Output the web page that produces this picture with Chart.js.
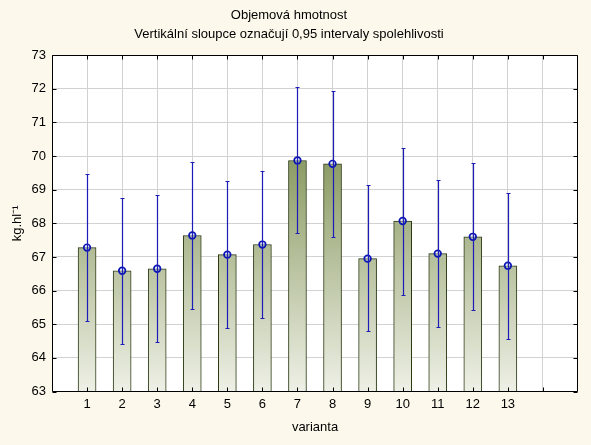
<!DOCTYPE html>
<html>
<head>
<meta charset="utf-8">
<script src="https://cdn.jsdelivr.net/npm/chart.js@4.4.1/dist/chart.umd.min.js"></script>
<style>
  html, body { margin: 0; padding: 0; background: #fdf8ec; }
  #wrap { width: 591px; height: 445px; }
</style>
</head>
<body>
<div id="wrap"><canvas id="c" width="591" height="445"></canvas></div>
<script>
// ---- data ----
const categories = [1, 2, 3, 4, 5, 6, 7, 8, 9, 10, 11, 12, 13];
const means = [67.28, 66.59, 66.65, 67.64, 67.07, 67.37, 69.87, 69.77, 66.95, 68.07, 67.10, 67.60, 66.74];
const upper = [69.46, 68.76, 68.83, 69.82, 69.25, 69.55, 72.06, 71.93, 69.14, 70.24, 69.29, 69.80, 68.91];
const lower = [65.09, 64.42, 64.47, 65.46, 64.89, 65.20, 67.70, 67.58, 64.79, 65.88, 64.93, 65.42, 64.57];
const yTicks = [63, 64, 65, 66, 67, 68, 69, 70, 71, 72, 73];
const titleText = 'Objemová hmotnost';
const subtitleText = 'Vertikální sloupce označují 0,95 intervaly spolehlivosti';
const xTitle = 'varianta';
const yTitle = 'kg.hl⁻¹';

const FONT = 'Arial, "Liberation Sans", sans-serif';

const framePlugin = {
  id: 'frame',
  beforeDraw(chart) {
    const {ctx, chartArea: a} = chart;
    ctx.save();
    ctx.fillStyle = '#fdf8ec';
    ctx.fillRect(0, 0, chart.width, chart.height);
    ctx.fillStyle = '#ffffff';
    ctx.fillRect(a.left, a.top, a.right - a.left, a.bottom - a.top);
    ctx.restore();
  },
  afterDatasetsDraw(chart) {
    const {ctx, scales} = chart;
    ctx.save();
    ctx.strokeStyle = '#1c1cb8';
    ctx.lineWidth = 1.2;
    categories.forEach((c, i) => {
      const x = Math.round(scales.x.getPixelForValue(c)) + 0.5;
      const yu = Math.round(scales.y.getPixelForValue(upper[i])) + 0.5;
      const yl = Math.round(scales.y.getPixelForValue(lower[i])) + 0.5;
      ctx.beginPath();
      ctx.moveTo(x, yu); ctx.lineTo(x, yl);
      ctx.moveTo(x - 2, yu); ctx.lineTo(x + 2, yu);
      ctx.moveTo(x - 2, yl); ctx.lineTo(x + 2, yl);
      ctx.stroke();
    });
    ctx.restore();
  },
  afterDraw(chart) {
    const {ctx, chartArea: a, scales} = chart;
    ctx.save();
    ctx.strokeStyle = '#000000';
    ctx.lineWidth = 1;
    const L = Math.round(a.left) + 0.5, R = Math.round(a.right) - 0.5;
    const T = Math.round(a.top) + 0.5, B = Math.round(a.bottom) - 0.5;
    ctx.beginPath();
    ctx.rect(L, T, R - L, B - T);
    ctx.stroke();
    ctx.beginPath();
    yTicks.forEach(v => {
      const y = Math.round(scales.y.getPixelForValue(v)) + 0.5;
      ctx.moveTo(L, y); ctx.lineTo(L + 4, y);
      ctx.moveTo(R, y); ctx.lineTo(R - 4, y);
    });
    for (let v = 1; v <= 14; v++) {
      const x = Math.round(scales.x.getPixelForValue(v)) + 0.5;
      ctx.moveTo(x, B); ctx.lineTo(x, B - 4);
      ctx.moveTo(x, T); ctx.lineTo(x, T + 4);
    }
    ctx.stroke();
    ctx.restore();
  }
};

function barGradient(ctx) {
  const chart = ctx.chart;
  const a = chart.chartArea;
  if (!a) return '#b8c0a0';
  const top = chart.scales.y.getPixelForValue(70);
  const g = chart.ctx.createLinearGradient(0, top, 0, a.bottom);
  g.addColorStop(0, '#8a9a62');
  g.addColorStop(1, '#eef0e6');
  return g;
}

new Chart(document.getElementById('c'), {
  data: {
    datasets: [
      {
        type: 'bar',
        data: categories.map((c, i) => ({x: c, y: means[i]})),
        backgroundColor: barGradient,
        borderColor: '#2c3a14',
        borderWidth: 1,
        borderSkipped: false,
        barThickness: 18,
        order: 2
      },
      {
        type: 'scatter',
        data: categories.map((c, i) => ({x: c, y: means[i]})),
        pointRadius: 3.3,
        pointBorderWidth: 1.7,
        pointBorderColor: '#0a14b4',
        pointBackgroundColor: 'rgba(210,220,255,0.35)',
        order: 0
      }
    ]
  },
  options: {
    responsive: false,
    animation: false,
    devicePixelRatio: 1,
    layout: { padding: { left: 0, right: 13, top: 0, bottom: 0 } },
    plugins: {
      legend: { display: false },
      tooltip: { enabled: false },
      title: {
        display: true, text: titleText, color: '#000',
        font: { family: FONT, size: 13, weight: 'normal' },
        padding: { top: 8, bottom: 3 }
      },
      subtitle: {
        display: true, text: subtitleText, color: '#000',
        font: { family: FONT, size: 13, weight: 'normal' },
        padding: { top: 0, bottom: 13 }
      }
    },
    scales: {
      x: {
        type: 'linear', min: 0, max: 15, offset: false,
        afterFit: s => { s.height = 53.5; },
        ticks: {
          stepSize: 1, autoSkip: false, maxRotation: 0,
          color: '#000', font: { family: FONT, size: 13 }, padding: 5,
          callback: v => (v >= 1 && v <= 13) ? String(v) : ''
        },
        grid: {
          offset: false,
          drawTicks: false,
          color: c => (c.tick && c.tick.value >= 1 && c.tick.value <= 14) ? '#d2d2d2' : 'rgba(0,0,0,0)'
        },
        border: { display: false },
        title: {
          display: true, text: xTitle, color: '#000',
          font: { family: FONT, size: 13 }, padding: { top: 0, bottom: 10 }
        }
      },
      y: {
        type: 'linear', min: 63, max: 73,
        afterFit: s => { s.width = 52; },
        ticks: {
          stepSize: 1, color: '#000', font: { family: FONT, size: 13 }, padding: 6
        },
        grid: { drawTicks: false, color: '#d2d2d2' },
        border: { display: false },
        title: {
          display: true, text: yTitle, color: '#000',
          font: { family: FONT, size: 13 }, padding: { top: 10, bottom: 0 }
        }
      }
    }
  },
  plugins: [framePlugin]
});
</script>
</body>
</html>
